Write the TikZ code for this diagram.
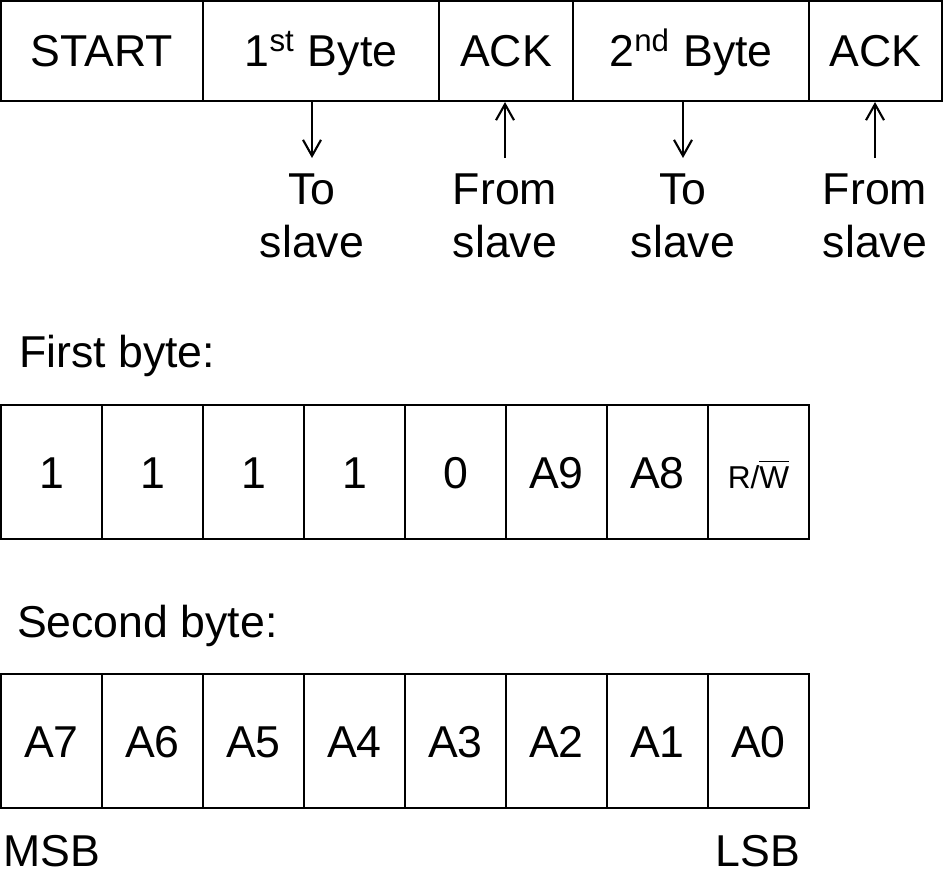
\documentclass[tikz,border=0pt]{standalone}
\usepackage{fontspec}
\setmainfont{Liberation Sans}
\usetikzlibrary{arrows.meta,calc}

\begin{document}
\begin{tikzpicture}[line width=0.6pt,>={Straight Barb[length=1.6mm,width=1.8mm]},
field/.style ={rectangle, draw, minimum height=1cm, inner sep=0pt, text height=9.1pt, text depth=0pt, font=\fontsize{12.7}{15}\selectfont},
bit/.style ={rectangle, draw, minimum width=1.01cm, minimum height=1.34cm, inner sep=0pt, text height=9.1pt, text depth=0pt, font=\fontsize{12.7}{15}\selectfont},
dirnote/.style ={align=center, inner sep=0pt, outer sep=1.6mm, anchor=north, font=\fontsize{12.7}{15}\selectfont},
caption/.style ={inner sep=0pt, font=\fontsize{12.7}{15}\selectfont}]%
\useasboundingbox (0,0) rectangle (9.45,8.74);
% frame on the bus
\draw (1.02,8.23) node[field,minimum width=2.02cm] (start) {START};
\draw (3.21,8.23) node[field,minimum width=2.36cm] (byteA) {1\textsuperscript{st} Byte};
\draw (5.06,8.23) node[field,minimum width=1.34cm] (ackA) {ACK};
\draw (6.91,8.23) node[field,minimum width=2.36cm] (byteB) {2\textsuperscript{nd} Byte};
\draw (8.755,8.23) node[field,minimum width=1.33cm] (ackB) {ACK};
\draw (3.12,7.16) node[dirnote] (toA) {To\\slave};
\draw (5.05,7.16) node[dirnote] (fromA) {From\\slave};
\draw (6.83,7.16) node[dirnote] (toB) {To\\slave};
\draw (8.75,7.16) node[dirnote] (fromB) {From\\slave};
\draw[->] (byteA.south -| toA.north)--(toA.north);
\draw[->] (fromA.north)--(ackA.south -| fromA.north);
\draw[->] (byteB.south -| toB.north)--(toB.north);
\draw[->] (fromB.north)--(ackB.south -| fromB.north);
% first byte
\draw (0.18,5.07) node[caption,anchor=base west] (first) {First byte:};
\draw (0.515,4.02) node[bit] (f7) {1};
\draw (1.525,4.02) node[bit] (f6) {1};
\draw (2.535,4.02) node[bit] (f5) {1};
\draw (3.545,4.02) node[bit] (f4) {1};
\draw (4.555,4.02) node[bit] (f3) {0};
\draw (5.565,4.02) node[bit] (f2) {A9};
\draw (6.575,4.02) node[bit] (f1) {A8};
\draw (7.585,4.02) node[bit] (f0) {\fontsize{9}{11}\selectfont R/$\overline{\mbox{W}}$};
% second byte
\draw (0.16,2.37) node[caption,anchor=base west] (second) {Second byte:};
\draw (0.515,1.33) node[bit] (s7) {A7};
\draw (1.525,1.33) node[bit] (s6) {A6};
\draw (2.535,1.33) node[bit] (s5) {A5};
\draw (3.545,1.33) node[bit] (s4) {A4};
\draw (4.555,1.33) node[bit] (s3) {A3};
\draw (5.565,1.33) node[bit] (s2) {A2};
\draw (6.575,1.33) node[bit] (s1) {A1};
\draw (7.585,1.33) node[bit] (s0) {A0};
\draw (0.02,0.08) node[caption,anchor=base west] (msb) {MSB};
\draw (8.01,0.08) node[caption,anchor=base east] (lsb) {LSB};
\end{tikzpicture}
\end{document}
